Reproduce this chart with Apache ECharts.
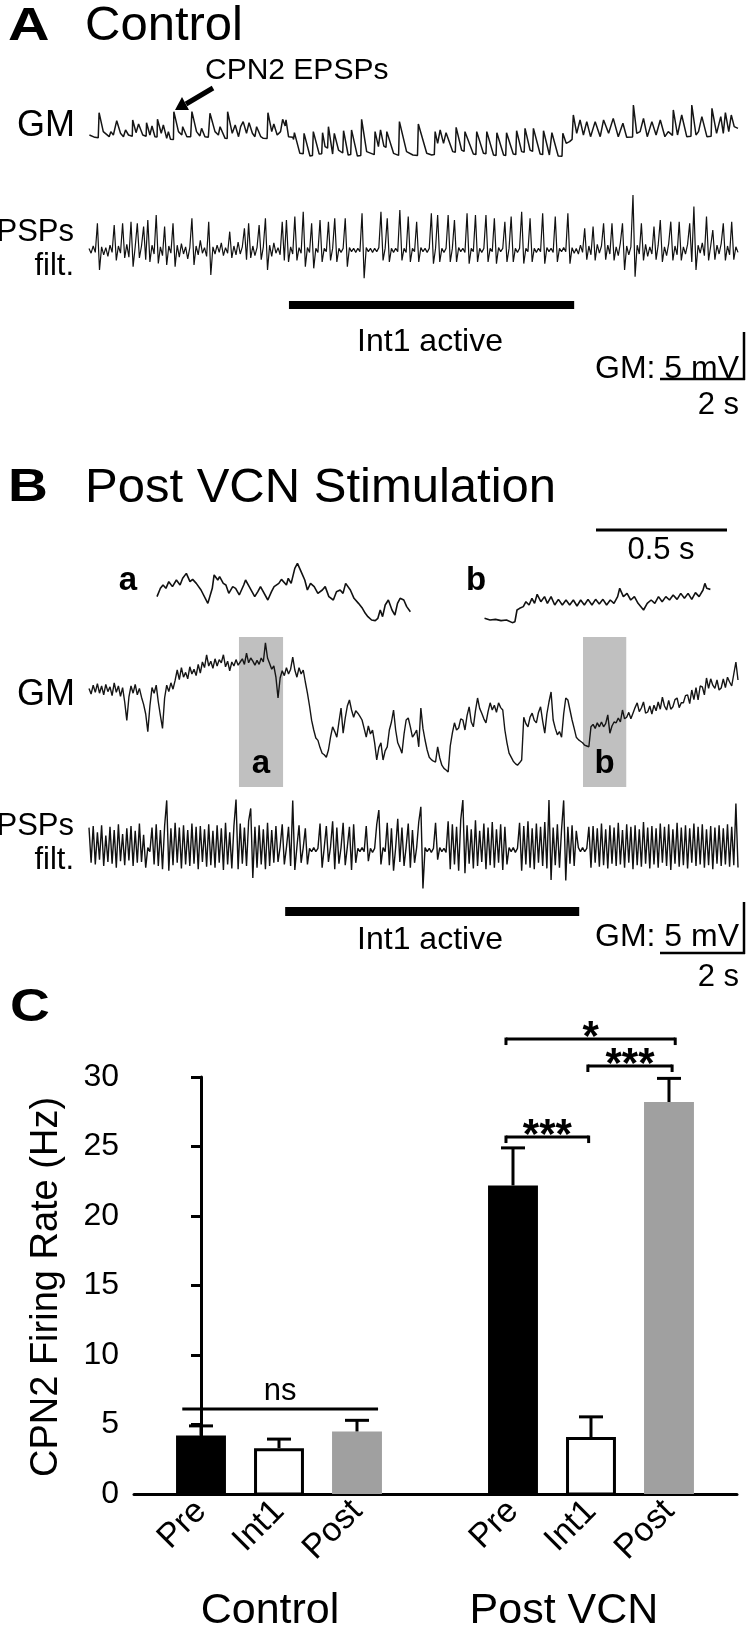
<!DOCTYPE html>
<html><head><meta charset="utf-8">
<script src="https://cdn.jsdelivr.net/npm/echarts@6/dist/echarts.min.js"></script>
<style>html,body{margin:0;padding:0;background:#fff}#c{width:749px;height:1629px}</style>
</head><body><div id="c"></div>
<script>
const FONT = '"Liberation Sans", Arial, Helvetica, sans-serif';

// ---------- Panel A: GM trace (time s, mV) ----------
const gmA = [
[0.01,0.25],[0.14,-0.04],[0.22,-0.1],[0.24,3.04],[0.34,0.67],[0.48,0.04],[0.52,0.67],[0.58,0.25],[0.66,2.04],[0.75,0.46],[0.82,0.04],[0.87,0.88],[0.94,0.25],[1.03,0.1],[1.04,2.13],[1.12,0.54],[1.18,1.63],[1.28,0.25],[1.36,0.1],[1.37,1.79],[1.45,0.25],[1.50,1.38],[1.57,0.04],[1.62,0.0],[1.63,2.21],[1.72,0.46],[1.77,1.5],[1.85,-0.17],[1.89,0.67],[1.94,-0.29],[2.01,-0.3],[2.02,3.17],[2.13,0.67],[2.21,0.25],[2.23,1.29],[2.33,0.04],[2.42,0.04],[2.45,3.17],[2.56,0.67],[2.64,0.13],[2.68,1.08],[2.76,0.04],[2.84,-0.04],[2.88,2.96],[3.0,0.67],[3.08,0.25],[3.12,1.29],[3.24,-0.17],[3.29,-0.2],[3.30,3.17],[3.41,0.46],[3.48,1.5],[3.56,0.04],[3.61,1.29],[3.67,1.92],[3.75,0.46],[3.81,1.79],[3.89,0.46],[3.95,0.04],[3.99,1.29],[4.09,0.04],[4.15,-0.17],[4.24,-0.2],[4.26,3.04],[4.35,0.67],[4.40,1.63],[4.48,0.25],[4.56,0.67],[4.61,2.21],[4.67,1.38],[4.69,2.13],[4.75,0.04],
[4.85,-0.04],[4.87,-0.3],[4.89,0.54],[5.02,-2.04],[5.10,-2.1],[5.12,0.46],[5.26,-2.38],[5.32,-2.3],[5.34,0.67],[5.48,-2.13],[5.54,-2.1],[5.56,0.54],[5.62,-1.21],[5.68,-1.4],[5.70,1.29],[5.80,-2.13],[5.82,-2.1],[5.84,0.46],[5.94,-1.63],[6.04,-2.0],[6.06,0.79],[6.17,-2.25],[6.23,-2.2],[6.25,0.88],[6.39,-2.38],[6.47,-2.3],[6.49,2.21],[6.61,-1.83],[6.79,-2.2],[6.81,0.67],[6.89,-1.21],[6.92,-1.3],[6.94,0.88],[7.02,-1.13],[7.07,-1.3],[7.09,0.67],[7.25,-2.04],[7.37,-2.3],[7.39,1.92],[7.56,-1.83],[7.71,-2.25],[7.82,-2.3],[7.84,1.63],[8.04,-2.04],[8.16,-2.25],[8.22,-2.2],[8.24,0.67],[8.30,-0.79],[8.34,-0.9],[8.36,0.88],[8.44,-0.79],[8.48,-0.9],[8.50,0.54],[8.66,-1.83],[8.72,-1.9],[8.74,1.21],[8.87,-1.63],[8.93,-1.8],[8.95,0.67],[9.15,-2.13],[9.21,-2.2],[9.23,0.67],[9.39,-2.04],[9.45,-2.1],[9.47,0.67],[9.63,-2.25],[9.69,-2.3],[9.71,0.54],[9.87,-2.25],[9.92,-2.3],[9.94,0.54],[10.10,-2.13],[10.16,-2.2],[10.18,0.79],[10.30,-1.83],[10.36,-1.9],[10.38,1.08],[10.50,-1.63],[10.56,-1.8],[10.58,1.08],[10.74,-2.13],[10.80,-2.2],[10.82,0.79],[10.96,-2.25],[11.00,-2.3],[11.02,0.54],[11.17,-2.38],[11.26,-2.4],[11.28,0.46],[11.36,-0.79],[11.44,-0.58],
[11.50,-0.3],[11.53,2.75],[11.61,0.46],[11.69,2.13],[11.77,0.25],[11.85,1.92],[11.94,0.04],[12.05,1.92],[12.17,0.04],[12.25,2.13],[12.37,0.46],[12.48,2.33],[12.60,0.04],[12.71,1.71],[12.80,-0.04],[12.94,0.0],[12.96,4.0],[13.04,0.46],[13.12,0.67],[13.20,2.33],[13.29,0.04],[13.40,1.92],[13.50,0.25],[13.60,2.13],[13.71,0.04],[13.79,0.67],[13.89,0.2],[13.91,3.38],[14.01,0.25],[14.11,2.75],[14.23,0.04],[14.33,0.1],[14.35,4.0],[14.45,0.25],[14.51,0.67],[14.59,2.54],[14.71,0.04],[14.81,0.1],[14.83,3.58],[14.94,0.46],[15.04,2.54],[15.10,0.46],[15.15,3.04],[15.23,0.67],[15.29,2.75],[15.36,1.29],[15.45,1.08]
];

// ---------- Panel A: PSPs filtered, sampled every 0.05 s ----------
const sampleDt = 0.05;
const pspA = [
0.2,-0.4,0.5,-0.3,3.33,-2.5,0.4,-0.6,0.3,-0.8,
0.6,-0.3,3.13,-1.3,0.5,-0.4,3.33,-1.0,0.7,-0.9,
3.54,-2.08,0.4,3.33,-1.0,0.5,2.92,-1.2,3.75,-1.5,
0.6,-0.5,4.38,-1.67,0.4,-0.7,2.92,-1.88,0.5,-0.4,
3.33,-2.08,0.6,-0.9,0.8,-0.5,0.4,-1.1,0.3,3.96,
-1.88,0.5,-0.6,1.2,-0.4,0.3,-0.8,3.54,-3.13,0.4,
-0.5,0.6,-0.3,0.9,-0.7,0.3,-0.4,2.29,-1.0,0.5,
-0.6,1.0,-0.5,0.4,2.71,-1.2,3.33,-1.0,0.5,-0.7,
0.3,3.13,-1.2,0.4,3.96,-2.5,0.6,-0.8,0.9,-0.4,
0.3,-0.6,3.54,-1.3,3.75,-1.5,0.4,-0.5,4.17,-1.3,
0.3,-0.4,4.79,-2.08,0.3,-0.3,3.33,-2.29,0.2,-0.3,
3.75,-1.5,0.2,-0.2,3.54,-1.3,0.2,3.96,-1.5,0.2,
-0.3,0.2,3.96,-2.08,0.3,-0.2,0.2,-0.3,0.2,-0.2,
4.58,-3.54,0.3,-0.2,0.2,-0.3,0.2,-0.2,0.3,4.79,
-1.3,0.2,3.96,-1.5,0.2,-0.3,0.2,-0.2,5.0,-1.3,
0.2,-0.3,4.17,-1.5,0.2,-0.2,3.54,-1.5,0.3,-0.2,
0.2,-0.3,0.2,4.58,-1.7,0.2,4.38,-1.5,0.2,-0.3,
0.2,4.38,-1.5,0.2,3.75,-1.5,0.3,-0.2,0.2,-0.3,
4.58,-1.7,0.2,-0.2,4.38,-1.5,0.2,-0.3,0.2,4.38,
-1.5,0.2,-0.2,3.96,-1.7,0.3,-0.2,0.2,3.54,-1.5,
0.2,4.17,-1.5,0.2,-0.3,0.2,4.79,-1.7,0.2,-0.2,
3.96,-1.5,0.2,-0.3,0.2,-0.2,4.58,-1.7,0.3,-0.2,
0.2,-0.3,4.17,-1.5,0.2,-0.2,0.3,-0.2,4.58,-1.7,
0.3,-0.4,0.2,-0.5,0.6,-0.3,2.71,-1.2,0.5,-0.6,
2.92,-1.3,0.7,-0.4,0.5,3.33,-1.2,0.6,-0.5,3.33,
-1.3,0.4,-0.7,0.9,3.33,-2.5,0.5,-0.6,0.4,6.88,
-3.33,0.6,-0.5,3.33,-1.3,0.7,-0.8,0.4,-0.5,2.92,
-1.2,0.6,3.75,-1.5,0.4,-0.7,0.8,3.54,-1.3,0.5,
-0.6,3.54,-1.3,0.4,-0.5,0.7,3.33,-1.5,5.42,-2.5,
0.6,-0.4,0.9,-0.7,4.17,-1.3,0.5,2.5,-1.2,0.6,
-0.5,0.8,3.33,-1.3,0.5,-0.6,3.54,-1.2,0.4,-0.3
];
const int1A = [4.76, 11.55];

// ---------- Panel B insets (time s, mV) ----------
const insetA = [
[0,0.42],[0.013,1.46],[0.023,1.88],[0.034,1.46],[0.045,2.29],[0.059,1.67],[0.074,2.5],[0.088,1.88],[0.098,2.71],[0.112,3.33],[0.126,2.29],[0.136,2.58],[0.150,2.08],[0.168,1.25],[0.194,-0.42],[0.211,1.46],[0.218,3.13],[0.232,2.5],[0.239,2.92],[0.253,2.08],[0.263,1.88],[0.274,0.83],[0.289,1.67],[0.300,1.46],[0.314,0.63],[0.331,1.88],[0.338,2.5],[0.352,1.67],[0.373,0.42],[0.385,1.04],[0.395,1.67],[0.423,0],[0.437,1.04],[0.447,1.67],[0.465,2.08],[0.475,2.58],[0.494,1.88],[0.501,2.71],[0.512,2.08],[0.526,3.96],[0.536,4.58],[0.550,3.54],[0.564,2.5],[0.574,1.25],[0.586,2.08],[0.600,1.67],[0.614,0.83],[0.631,1.25],[0.642,1.67],[0.656,0.42],[0.673,0],[0.685,1.04],[0.699,1.25],[0.710,0.83],[0.720,2.08],[0.738,1.25],[0.752,0.21],[0.769,-0.42],[0.784,-1.04],[0.795,-1.67],[0.805,-2.08],[0.819,-2.5],[0.833,-2.58],[0.843,-2.29],[0.852,-1.25],[0.861,-2.08],[0.871,-0.63],[0.883,0],[0.897,-1.25],[0.908,-1.88],[0.918,-0.42],[0.928,0.21],[0.942,0],[0.953,-0.83],[0.967,-1.46]
];
const insetB = [
[0.002,-2.29],[0.023,-2.5],[0.044,-2.42],[0.065,-2.58],[0.086,-2.5],[0.108,-2.83],[0.118,-2.71],[0.126,-1.25],[0.136,-1.04],[0.150,-0.83],[0.160,-0.21],[0.172,-0.63],[0.183,0.21],[0.193,-0.42],[0.203,0.71],[0.217,-0.21],[0.231,0.42],[0.242,-0.42],[0.256,0.42],[0.270,-0.63],[0.284,0.08],[0.299,-0.63],[0.313,0],[0.327,-0.63],[0.341,0],[0.355,-0.75],[0.369,0],[0.383,-0.63],[0.397,0.08],[0.412,-0.63],[0.426,0.08],[0.440,-0.5],[0.454,0.08],[0.468,-0.63],[0.482,0],[0.496,-0.42],[0.510,0.42],[0.518,1.46],[0.532,0.42],[0.546,0.83],[0.560,0],[0.574,0.42],[0.588,-0.42],[0.609,-1.25],[0.623,-0.42],[0.638,0],[0.652,-0.42],[0.666,0.42],[0.680,-0.21],[0.694,0.42],[0.708,0],[0.722,0.63],[0.737,0.08],[0.751,0.83],[0.765,0.21],[0.779,0.83],[0.793,0.08],[0.807,0.92],[0.821,0.42],[0.836,1.25],[0.843,2.08],[0.850,1.46],[0.864,1.33]
];

// ---------- Panel B: GM trace sampled every 0.05 s (mV) ----------
const gmB = [
0.2,-0.5,0.6,-0.3,0.8,-0.4,0.5,-0.6,0.7,-0.2,
0.4,-0.7,0.9,-0.3,0.5,-0.8,0.3,-1.5,-3.8,-0.9,
0.5,-0.4,0.7,-0.6,0.2,-0.9,-1.8,-3.0,-5.2,-2.0,
0.3,-0.4,0.6,-1.5,-3.2,-4.8,-1.0,0.6,-0.2,0.9,
0.1,1.2,2.5,1.3,2.8,1.6,2.2,1.4,2.9,2.0,
2.6,1.8,3.2,2.1,3.5,2.8,4.4,3.0,3.6,2.7,
3.9,3.0,3.8,3.4,4.4,2.9,3.6,2.4,3.5,3.0,
3.8,3.1,3.5,3.9,3.2,4.6,3.4,4.0,3.6,3.1,
3.7,3.2,4.0,3.5,5.9,4.0,3.3,2.6,3.0,1.6,
-1.0,1.5,2.4,1.8,2.8,2.0,2.6,4.1,2.5,1.6,
2.8,2.0,2.5,1.0,-0.4,-2.0,-3.8,-5.0,-6.0,-6.3,
-7.2,-7.9,-8.1,-8.4,-7.5,-5.9,-4.6,-5.2,-5.9,-4.0,
-2.25,-5.4,-3.5,-2.0,-1.25,-2.5,-3.4,-2.6,-2.9,-3.3,
-3.75,-4.8,-5.9,-4.5,-5.5,-5.0,-6.6,-8.75,-7.2,-6.6,
-8.75,-7.6,-7.1,-5.0,-4.0,-2.5,-5.0,-6.6,-7.2,-7.9,
-5.5,-3.75,-3.5,-4.6,-5.9,-5.5,-5.0,-7.1,-2.25,-4.8,
-6.25,-7.5,-8.4,-8.7,-8.9,-9.0,-7.1,-8.5,-9.4,-9.8,
-10.0,-10.25,-7.0,-5.4,-4.1,-5.0,-4.75,-3.6,-3.75,-5.0,
-3.2,-2.1,-4.0,-4.6,-2.6,-1.0,-2.3,-2.9,-3.6,-4.1,
-2.7,-1.6,-2.5,-1.9,-2.8,-1.6,-2.2,-2.5,-5.0,-6.6,
-7.9,-8.4,-8.9,-9.2,-9.4,-9.1,-8.75,-3.4,-4.2,-4.6,
-3.4,-2.9,-3.8,-4.1,-2.8,-2.1,-3.9,-5.4,-3.0,-1.5,
-0.25,-3.75,-4.8,-5.6,-5.2,-5.9,-3.0,-1.0,-1.25,-2.5,
-3.75,-4.8,-5.9,-6.2,-6.4,-6.6,-6.9,-7.0,-7.1,-4.6,
-4.3,-4.8,-4.1,-4.6,-4.0,-4.6,-4.2,-3.1,-5.4,-4.5,
-4.0,-4.1,-3.5,-4.0,-2.5,-3.6,-3.4,-2.8,-3.6,-2.9,
-2.2,-1.6,-2.7,-2.25,-1.5,-2.9,-2.75,-2.0,-3.0,-1.9,
-2.6,-1.5,-2.4,-0.9,-2.0,-2.5,-1.3,-2.4,-2.1,-1.2,
-1.0,-2.2,-1.6,-1.6,-0.7,-0.6,-1.7,0,-1.2,0.3,
-1.25,0.5,0.4,-0.6,1.5,0.2,1.4,0.6,0.2,1.25,
0.0,0.25,1.4,0.3,1.6,1.0,0.5,2.0,3.5,1.25
];

// ---------- Panel B: PSPs filtered, sampled every 0.05 s ----------
const pspB = [
2.8,-1.6,3.0,-1.8,2.2,-1.2,3.1,-2.0,1.8,-1.5,
2.9,-1.7,2.5,-2.2,3.2,-1.4,2.0,-1.9,2.7,-1.3,
3.0,-2.0,2.4,-1.6,3.3,-1.5,1.9,-2.2,0.3,-0.2,
2.8,-1.8,3.2,-2.0,2.5,-2.4,3.0,6.2,-2.6,2.7,
-1.9,3.4,-1.6,2.8,-2.3,3.1,-1.8,2.5,-2.0,3.3,
-1.7,2.9,-2.4,3.0,-1.5,2.6,-2.1,3.2,-1.9,2.4,
-2.2,3.1,-1.6,2.7,-2.5,3.4,-1.8,2.2,-2.3,3.0,
6.3,-2.4,3.3,-1.7,2.8,-2.0,3.6,5.2,-3.5,2.9,
-2.2,3.1,-1.8,2.6,-2.4,3.4,-2.0,2.5,-1.6,3.0,
-1.5,0.4,3.2,-1.8,0.3,2.9,-2.0,6.2,-2.5,0.4,
3.1,-1.6,0.3,2.7,-1.8,0.2,-0.2,0.3,-0.2,0.2,
3.3,-2.2,0.3,3.0,-1.5,0.4,3.6,-2.4,2.8,-1.7,
0.3,3.4,-1.9,0.4,2.9,-2.5,3.2,-1.6,0.2,-0.2,
0.3,-0.2,3.0,-1.4,0.2,-0.3,0.2,3.2,5.0,-1.8,
0.3,-0.2,3.4,-1.9,2.7,-2.6,0.3,3.9,-1.5,2.8,
-2.0,0.4,3.3,-2.2,2.5,-1.6,0.3,3.5,5.4,-4.8,
0.3,-0.2,0.2,-0.3,0.2,3.4,-1.2,0.3,-0.2,0.2,
-0.3,3.6,-2.4,3.2,-1.8,2.9,-2.6,3.8,6.25,-2.9,
3.1,-1.7,2.6,-2.3,3.7,-2.0,2.4,-1.5,3.3,-2.4,
2.8,-1.9,3.5,-2.2,2.6,-1.6,3.2,-2.5,2.9,-1.8,
0.3,-0.2,0.3,-0.3,0.2,3.4,-2.6,3.0,-1.8,3.6,
-2.2,2.7,-2.4,3.3,-1.6,2.9,-2.0,3.5,-2.3,6.25,
-3.75,2.8,-1.9,3.2,-2.2,2.6,6.2,-3.8,2.9,-1.7,
3.1,-2.0,2.4,0.3,-0.2,0.3,-0.2,0.2,2.9,-2.2,
3.0,-1.6,2.7,-2.1,3.3,-1.9,2.6,-2.3,3.1,-1.7,
2.8,-2.0,3.4,-1.8,2.5,-2.2,3.2,-1.6,2.9,-2.4,
3.1,-1.9,2.6,-2.1,3.5,-1.7,2.8,-2.3,3.0,-1.8,
2.7,-2.2,3.3,-1.6,2.9,-2.0,3.2,-2.5,2.6,-1.7,
3.4,-2.1,2.8,-1.9,3.1,-2.3,2.7,-1.6,3.3,-2.0,
2.9,-1.8,3.2,-2.2,2.6,-1.9,3.0,-2.4,2.8,-1.7,
3.1,-2.0,2.7,-1.8,3.2,-2.1,2.9,-1.9,5.8,-2.2
];
const int1B = [4.67, 11.67];
const shadeB = [[3.57, 4.62], [11.76, 12.79]];
const shadeLabels = ['a', 'b'];

// ---------- Panel C: bar chart ----------
const categories = ['Pre', 'Int1', 'Post', '', 'Pre', 'Int1', 'Post'];
const rates = [4.2, 3.3, 4.5, null, 22.2, 4.1, 28.2];
const sems  = [0.7, 0.65, 0.8, null, 2.7, 1.45, 1.7];
const yTicks = { min: 0, max: 30, interval: 5 };
const groupLabels = ['Control', 'Post VCN'];
const brackets = [[-0.24, 2.27, 6.12], [3.91, 4.97, 25.68], [4.96, 6.04, 30.79], [3.91, 6.08, 32.73]];
const bracketLabels = ['ns', '***', '***', '*'];

// ---------- styles ----------
const barFill = ['#000', '#fff', '#a0a0a0', null, '#000', '#fff', '#a0a0a0'];

const chart = echarts.init(document.getElementById('c'), null, { renderer: 'canvas' });

function T(text, x, y, size, opt) {
  opt = opt || {};
  return {
    type: 'text', x: x, y: y, z: 10, silent: true,
    scaleX: opt.scaleX || 1,
    style: {
      text: text, fill: '#000',
      font: (opt.bold ? 'bold ' : '') + size + 'px ' + FONT,
      align: opt.align || 'left', verticalAlign: 'middle',
      textAlign: opt.align || 'left', textVerticalAlign: 'middle'
    },
    rotation: opt.rotation || 0
  };
}
function L(x1, y1, x2, y2, w) {
  return { type: 'line', z: 10, silent: true, shape: { x1, y1, x2, y2 }, style: { stroke: '#000', lineWidth: w || 2.5 } };
}

const hidden = (g, min, max) => ({ gridIndex: g, type: 'value', min: min, max: max, show: false });

const grids = [
  { left: 89, width: 649, top: 97, height: 72 },    // 0 GM A
  { left: 89, width: 649, top: 194, height: 96 },   // 1 PSP A
  { left: 157, width: 262, top: 552, height: 80 },  // 2 inset a
  { left: 484, width: 262, top: 552, height: 80 },  // 3 inset b
  { left: 89, width: 649, top: 634, height: 144 },  // 4 GM B
  { left: 89, width: 649, top: 794, height: 96 },   // 5 PSP B
  { left: 134, width: 603, top: 1077, height: 417 },// 6 bars
  { left: 162, width: 546, top: 1077, height: 417 } // 7 category labels
];

const traceLine = (xi, data, w, color) => ({
  type: 'line', xAxisIndex: xi, yAxisIndex: xi, data: data, symbol: 'none', silent: true,
  lineStyle: { color: color || '#222', width: w }, z: 3, animation: false
});

const sampled = arr => arr.map((v, i) => [+(i * sampleDt).toFixed(2), v]);

function int1Bar(offsetY, thick) {
  return function (params, api) {
    const p0 = api.coord([api.value(0), 0]);
    const p1 = api.coord([api.value(1), 0]);
    return { type: 'rect', shape: { x: p0[0], y: p0[1] + offsetY, width: p1[0] - p0[0], height: thick }, style: { fill: '#000' } };
  };
}

const option = {
  animation: false,
  backgroundColor: '#fff',
  textStyle: { fontFamily: FONT },
  grid: grids,
  xAxis: [
    hidden(0, 0, 15.45), hidden(1, 0, 15.45), hidden(2, 0, 1), hidden(3, 0, 1),
    hidden(4, 0, 15.45), hidden(5, 0, 15.45),
    { gridIndex: 6, type: 'value', min: -0.859, max: 6.872,
      axisLine: { show: true, lineStyle: { color: '#000', width: 3 } },
      axisTick: { show: false }, axisLabel: { show: false }, splitLine: { show: false } },
    { gridIndex: 7, type: 'category', data: categories, boundaryGap: true,
      axisLine: { show: false }, axisTick: { show: false },
      axisLabel: { rotate: 45, interval: 0, fontSize: 34, color: '#000', margin: 12, fontFamily: FONT } }
  ],
  yAxis: [
    hidden(0, -4, 5), hidden(1, -5, 7), hidden(2, -4, 6), hidden(3, -4, 6),
    hidden(4, -11, 7), hidden(5, -5, 7),
    { gridIndex: 6, type: 'value', min: yTicks.min, max: yTicks.max, interval: yTicks.interval,
      axisLine: { show: true, lineStyle: { color: '#000', width: 3 } },
      axisTick: { show: true, length: 10, lineStyle: { color: '#000', width: 3 } },
      axisLabel: { fontSize: 32, color: '#000', margin: 15, fontFamily: FONT },
      splitLine: { show: false } },
    { gridIndex: 7, type: 'value', min: 0, max: 30, show: false }
  ],
  series: [
    traceLine(0, gmA, 1.5, '#151515'),
    traceLine(1, sampled(pspA), 1.2, '#111'),
    traceLine(2, insetA, 1.6, '#111'),
    traceLine(3, insetB, 1.6, '#111'),
    traceLine(4, sampled(gmB), 1.4, '#151515'),
    traceLine(5, sampled(pspB), 1.4, '#111'),
    { type: 'custom', xAxisIndex: 1, yAxisIndex: 1, clip: false, silent: true,
      data: [int1A], renderItem: int1Bar(51, 8) },
    { type: 'custom', xAxisIndex: 5, yAxisIndex: 5, clip: false, silent: true,
      data: [int1B], renderItem: int1Bar(57, 9) },
    { type: 'custom', xAxisIndex: 4, yAxisIndex: 4, clip: false, silent: true, z: 1,
      data: shadeB,
      renderItem: function (params, api) {
        const p0 = api.coord([api.value(0), 0]);
        const p1 = api.coord([api.value(1), 0]);
        return { type: 'group', children: [
          { type: 'rect', shape: { x: p0[0], y: p0[1] - 53, width: p1[0] - p0[0], height: 150 }, style: { fill: '#c0c0c0' } },
          { type: 'text', x: (p0[0] + p1[0]) / 2, y: p0[1] + 74,
            style: { text: shadeLabels[params.dataIndex], font: 'bold 33px ' + FONT, fill: '#000', align: 'center', verticalAlign: 'middle' } }
        ] };
      } },
    { type: 'custom', xAxisIndex: 6, yAxisIndex: 6, clip: false, silent: true, z: 3,
      data: categories.map((c, i) => [i, rates[i], sems[i]]).filter(d => d[1] != null),
      renderItem: function (params, api) {
        const x = api.value(0), v = api.value(1), e = api.value(2);
        const base = api.coord([x, 0]), top = api.coord([x, v]), et = api.coord([x, v + e]);
        const bw = api.size([1, 0])[0] * 0.64;
        const fill = barFill[x];
        const cx = base[0];
        const children = [];
        if (fill === '#fff') {
          children.push({ type: 'rect', shape: { x: cx - bw / 2 + 1.5, y: top[1] + 1.5, width: bw - 3, height: base[1] - top[1] - 1.5 },
            style: { fill: '#fff', stroke: '#000', lineWidth: 3 } });
        } else {
          children.push({ type: 'rect', shape: { x: cx - bw / 2, y: top[1], width: bw, height: base[1] - top[1] }, style: { fill: fill } });
        }
        children.push({ type: 'line', shape: { x1: cx, y1: top[1], x2: cx, y2: et[1] }, style: { stroke: '#000', lineWidth: 3 } });
        children.push({ type: 'line', shape: { x1: cx - 12, y1: et[1], x2: cx + 12, y2: et[1] }, style: { stroke: '#000', lineWidth: 3 } });
        return { type: 'group', children: children };
      } },
    { type: 'custom', xAxisIndex: 6, yAxisIndex: 6, clip: false, silent: true, z: 4,
      data: brackets,
      renderItem: function (params, api) {
        const a = api.coord([api.value(0), api.value(2)]);
        const b = api.coord([api.value(1), api.value(2)]);
        const lab = bracketLabels[params.dataIndex];
        const ns = lab === 'ns';
        const ch = [{ type: 'line', shape: { x1: a[0], y1: a[1], x2: b[0], y2: b[1] }, style: { stroke: '#000', lineWidth: 3 } }];
        if (!ns) {
          ch.push({ type: 'line', shape: { x1: a[0], y1: a[1] - 1.5, x2: a[0], y2: a[1] + 6 }, style: { stroke: '#000', lineWidth: 3 } });
          ch.push({ type: 'line', shape: { x1: b[0], y1: b[1] - 1.5, x2: b[0], y2: b[1] + 6 }, style: { stroke: '#000', lineWidth: 3 } });
        }
        ch.push({ type: 'text', x: (a[0] + b[0]) / 2, y: ns ? a[1] - 17 : a[1] - 1,
          style: { text: lab, font: (ns ? '' : 'bold ') + (ns ? 31 : 42) + 'px ' + FONT, fill: '#000', align: 'center', verticalAlign: 'middle' } });
        return { type: 'group', children: ch };
      } },
    { type: 'line', xAxisIndex: 7, yAxisIndex: 7, data: [], silent: true }
  ],
  graphic: [
    // Panel A
    T('A', 8, 27, 46, { bold: true, scaleX: 1.25 }),
    T('Control', 85, 26, 49),
    T('CPN2 EPSPs', 205, 71, 30),
    { type: 'polyline', z: 10, silent: true, shape: { points: [[213, 88], [186, 104]] }, style: { stroke: '#000', lineWidth: 5 } },
    { type: 'polygon', z: 10, silent: true, shape: { points: [[175, 110], [189, 110], [182, 97]] }, style: { fill: '#000' } },
    T('GM', 17, 126, 36),
    T('PSPs', 74, 232, 31, { align: 'right' }),
    T('filt.', 74, 266, 31, { align: 'right' }),
    T('Int1 active', 430, 342, 32, { align: 'center' }),
    T('GM: 5 mV', 739, 369, 32, { align: 'right' }),
    L(744, 332, 744, 380), L(660, 379, 745, 379),
    T('2 s', 739, 405, 31, { align: 'right' }),
    // Panel B
    T('B', 8, 488, 46, { bold: true, scaleX: 1.2 }),
    T('Post VCN Stimulation', 85, 488, 49),
    L(596, 530, 727, 530, 3),
    T('0.5 s', 661, 550, 31, { align: 'center' }),
    T('a', 128, 581, 33, { bold: true, align: 'center' }),
    T('b', 476, 581, 33, { bold: true, align: 'center' }),
    T('GM', 17, 695, 36),
    T('PSPs', 74, 826, 31, { align: 'right' }),
    T('filt.', 74, 860, 31, { align: 'right' }),
    T('Int1 active', 430, 940, 32, { align: 'center' }),
    T('GM: 5 mV', 739, 937, 32, { align: 'right' }),
    L(744, 902, 744, 954), L(660, 953, 745, 953),
    T('2 s', 739, 977, 31, { align: 'right' }),
    // Panel C
    T('C', 10, 1008, 46, { bold: true, scaleX: 1.2 }),
    T('CPN2 Firing Rate (Hz)', 47, 1287, 38, { align: 'center', rotation: Math.PI / 2 }),
    T(groupLabels[0], 270, 1611, 43, { align: 'center' }),
    T(groupLabels[1], 564, 1611, 43, { align: 'center' })
  ]
};
chart.setOption(option);
</script>
</body></html>
